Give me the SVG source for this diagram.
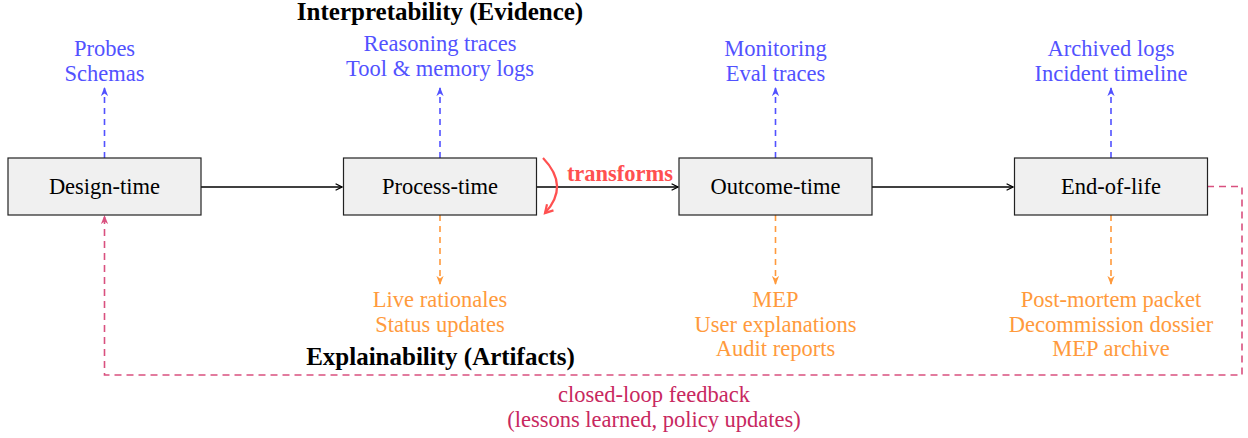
<svg xmlns="http://www.w3.org/2000/svg" width="1248" height="438" viewBox="0 0 1248 438" font-family="'Liberation Serif', 'Times New Roman', serif">
  <style>
    text { font-family: "Liberation Serif", "Times New Roman", serif; text-anchor: middle; }
    .box rect { fill: #f0f0f0; stroke: #222; stroke-width: 1.2; }
    .box text { font-size: 22.5px; fill: #000; }
    .ev { font-size: 22.5px; fill: #5252ff; }
    .ar { font-size: 22.5px; fill: #ff9a3c; }
    .head { font-size: 25px; font-weight: bold; fill: #000; }
    .fb { font-size: 22.5px; fill: #c8285f; }
    .flow { stroke: #000; stroke-width: 1.6; fill: none; marker-end: url(#hBlack); }
    .up { stroke: #5252ff; stroke-width: 1.6; stroke-dasharray: 6 5; fill: none; marker-end: url(#hBlue); }
    .down { stroke: #ff9a3c; stroke-width: 1.6; stroke-dasharray: 6 5; fill: none; marker-end: url(#hOrange); }
    .loop { stroke: #d9507f; stroke-width: 1.6; stroke-dasharray: 7 5; fill: none; }
  </style>
  <defs>
    <marker id="hBlack" viewBox="0 0 10 10" refX="9" refY="5" markerWidth="8" markerHeight="8" markerUnits="userSpaceOnUse" orient="auto">
      <path d="M1,1 L9,5 L1,9" fill="none" stroke="#000" stroke-width="1.6"/>
    </marker>
    <marker id="hBlue" viewBox="0 0 10 10" refX="9" refY="5" markerWidth="9" markerHeight="9" markerUnits="userSpaceOnUse" orient="auto">
      <path d="M0,1 L10,5 L0,9 L3,5 Z" fill="#5252ff"/>
    </marker>
    <marker id="hOrange" viewBox="0 0 10 10" refX="9" refY="5" markerWidth="9" markerHeight="9" markerUnits="userSpaceOnUse" orient="auto">
      <path d="M0,1 L10,5 L0,9 L3,5 Z" fill="#ff9a3c"/>
    </marker>
    <marker id="hPink" viewBox="0 0 10 10" refX="9" refY="5" markerWidth="9" markerHeight="9" markerUnits="userSpaceOnUse" orient="auto">
      <path d="M0,1 L10,5 L0,9 L3,5 Z" fill="#d9507f"/>
    </marker>
    <marker id="hRed" viewBox="0 0 10 10" refX="8" refY="5" markerWidth="11" markerHeight="11" markerUnits="userSpaceOnUse" orient="auto">
      <path d="M1,1 L8,5 L1,9" fill="none" stroke="#ff5050" stroke-width="2"/>
    </marker>
  </defs>

  <!-- connectors -->
  <g id="connectors">
    <line class="flow" x1="201" y1="187" x2="342" y2="187"/>
    <line class="flow" x1="537" y1="187" x2="678" y2="187"/>
    <line class="flow" x1="872" y1="187" x2="1013" y2="187"/>

    <line class="up" x1="104.5" y1="158" x2="104.5" y2="88"/>
    <line class="up" x1="440" y1="158" x2="440" y2="88"/>
    <line class="up" x1="775.5" y1="158" x2="775.5" y2="88"/>
    <line class="up" x1="1111" y1="158" x2="1111" y2="88"/>

    <line class="down" x1="440" y1="215" x2="440" y2="284"/>
    <line class="down" x1="775.5" y1="215" x2="775.5" y2="284"/>
    <line class="down" x1="1111" y1="215" x2="1111" y2="284"/>

    <polyline class="loop" points="1207,186.5 1242,186.5 1242,375 104.5,375 104.5,216" marker-end="url(#hPink)"/>

    <path d="M543,158 Q570,186 545,213" fill="none" stroke="#ff5050" stroke-width="2.2" marker-end="url(#hRed)"/>
  </g>

  <!-- stage nodes -->
  <g id="design-time" class="box">
    <rect x="8" y="158" width="193" height="57"/>
    <text x="104.5" y="194">Design-time</text>
  </g>
  <g id="process-time" class="box">
    <rect x="343.5" y="158" width="193" height="57"/>
    <text x="440" y="194">Process-time</text>
  </g>
  <g id="outcome-time" class="box">
    <rect x="679" y="158" width="193" height="57"/>
    <text x="775.5" y="194">Outcome-time</text>
  </g>
  <g id="end-of-life" class="box">
    <rect x="1014.5" y="158" width="193" height="57"/>
    <text x="1111" y="194">End-of-life</text>
  </g>

  <!-- evidence labels -->
  <g id="evidence">
    <text class="head" x="440" y="20">Interpretability (Evidence)</text>
    <text class="ev" x="104.5" y="56">Probes</text>
    <text class="ev" x="104.5" y="81">Schemas</text>
    <text class="ev" x="440" y="51">Reasoning traces</text>
    <text class="ev" x="440" y="76">Tool &amp; memory logs</text>
    <text class="ev" x="775.5" y="56">Monitoring</text>
    <text class="ev" x="775.5" y="81">Eval traces</text>
    <text class="ev" x="1111" y="56">Archived logs</text>
    <text class="ev" x="1111" y="81">Incident timeline</text>
  </g>

  <!-- artifact labels -->
  <g id="artifacts">
    <text class="ar" x="440" y="307">Live rationales</text>
    <text class="ar" x="440" y="332">Status updates</text>
    <text class="ar" x="775.5" y="307">MEP</text>
    <text class="ar" x="775.5" y="332">User explanations</text>
    <text class="ar" x="775.5" y="356">Audit reports</text>
    <text class="ar" x="1111" y="307">Post-mortem packet</text>
    <text class="ar" x="1111" y="332">Decommission dossier</text>
    <text class="ar" x="1111" y="356">MEP archive</text>
    <text class="head" x="440.5" y="365">Explainability (Artifacts)</text>
  </g>

  <g id="transforms-label">
    <text x="620" y="181" style="font-size:22.5px;font-weight:bold;fill:#ff5050">transforms</text>
  </g>

  <g id="feedback-label">
    <text class="fb" x="654" y="402">closed-loop feedback</text>
    <text class="fb" x="654" y="426.5">(lessons learned, policy updates)</text>
  </g>
</svg>
